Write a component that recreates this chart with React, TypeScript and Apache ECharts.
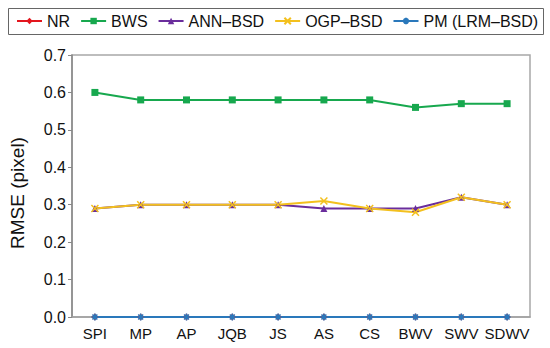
import React, { useEffect, useRef } from "react";
import * as echarts from "echarts";

const categories = ["SPI", "MP", "AP", "JQB", "JS", "AS", "CS", "BWV", "SWV", "SDWV"];
const nrValues = [0, 0, 0, 0, 0, 0, 0, 0, 0, 0];
const bwsValues = [0.6, 0.58, 0.58, 0.58, 0.58, 0.58, 0.58, 0.56, 0.57, 0.57];
const annValues = [0.29, 0.3, 0.3, 0.3, 0.3, 0.29, 0.29, 0.29, 0.32, 0.3];
const ogpValues = [0.29, 0.3, 0.3, 0.3, 0.3, 0.31, 0.29, 0.28, 0.32, 0.3];
const pmValues = [0, 0, 0, 0, 0, 0, 0, 0, 0, 0];
const yTicks = [0, 0.1, 0.2, 0.3, 0.4, 0.5, 0.6, 0.7];

const FONT = "Liberation Sans, Arial, sans-serif";

const crossPath = "path://M0,0L10,10M10,0L0,10";
const starPath = "path://M5,0L5,10M0,5L10,5M1.5,1.5L8.5,8.5M8.5,1.5L1.5,8.5";

function mk(name: string, data: number[], color: string, symbol: string, size: number, stroke = false) {
  return {
    name,
    type: "line",
    data,
    symbol,
    symbolSize: size,
    showSymbol: true,
    lineStyle: { color, width: 2 },
    itemStyle: stroke
      ? { color, borderColor: color, borderWidth: 1.5 }
      : { color, borderWidth: 0 },
    emphasis: { disabled: true },
  };
}

export default function App() {
  const ref = useRef<HTMLDivElement>(null);
  useEffect(() => {
    if (!ref.current) return;
    const chart = echarts.init(ref.current, undefined, { renderer: "svg" });
    chart.setOption({
      animation: false,
      backgroundColor: "#ffffff",
      textStyle: { fontFamily: FONT },
      graphic: [
        {
          type: "rect",
          shape: { x: 8.5, y: 8.5, width: 535, height: 26 },
          style: { fill: "none", stroke: "#666666", lineWidth: 1 },
          z: -1,
        },
        {
          type: "text",
          x: 17,
          y: 193,
          rotation: Math.PI / 2,
          style: {
            text: "RMSE (pixel)",
            fontFamily: FONT,
            fontSize: 19,
            fill: "#111111",
            align: "center",
            verticalAlign: "middle",
          },
        },
      ],
      legend: {
        left: 16,
        top: 13,
        width: 530,
        orient: "horizontal",
        itemWidth: 25,
        itemHeight: 8,
        itemGap: 10,
        padding: 0,
        textStyle: { fontFamily: FONT, fontSize: 16, color: "#111111", padding: [0, 0, 0, 0] },
        data: ["NR", "BWS", "ANN\u2013BSD", "OGP\u2013BSD", "PM (LRM\u2013BSD)"],
      },
      grid: {
        left: 72,
        right: 20,
        top: 55,
        bottom: 31,
        show: true,
        borderColor: "#a8a8a8",
        borderWidth: 1.5,
        backgroundColor: "transparent",
      },
      xAxis: {
        type: "category",
        data: categories,
        boundaryGap: true,
        axisLine: { lineStyle: { color: "#a0a0a0", width: 1.5 } },
        axisTick: { show: false },
        axisLabel: { fontFamily: FONT, fontSize: 15, color: "#111111", margin: 9, interval: 0 },
        splitLine: { show: false },
      },
      yAxis: {
        type: "value",
        min: 0,
        max: 0.7,
        interval: 0.1,
        axisLine: { show: true, lineStyle: { color: "#888888", width: 1.5 } },
        axisTick: { show: true, length: 4, lineStyle: { color: "#888888" } },
        axisLabel: {
          fontFamily: FONT,
          fontSize: 16,
          color: "#111111",
          margin: 6,
          formatter: (v: number) => {
            const t = yTicks.find((x) => Math.abs(x - v) < 1e-9);
            return (t !== undefined ? t : v).toFixed(1);
          },
        },
        splitLine: { show: false },
      },
      series: [
        mk("NR", nrValues, "#e3161e", "diamond", 7),
        mk("BWS", bwsValues, "#17a84e", "rect", 7),
        mk("ANN\u2013BSD", annValues, "#6a2d9c", "triangle", 7),
        mk("OGP\u2013BSD", ogpValues, "#f3c01e", crossPath, 7, true),
        mk("PM (LRM\u2013BSD)", pmValues, "#2a78bb", starPath, 7, true),
      ],
    });
    return () => chart.dispose();
  }, []);
  return (
    <div
      ref={ref}
      style={{ position: "absolute", left: 0, top: 0, width: 550, height: 348 }}
    />
  );
}
